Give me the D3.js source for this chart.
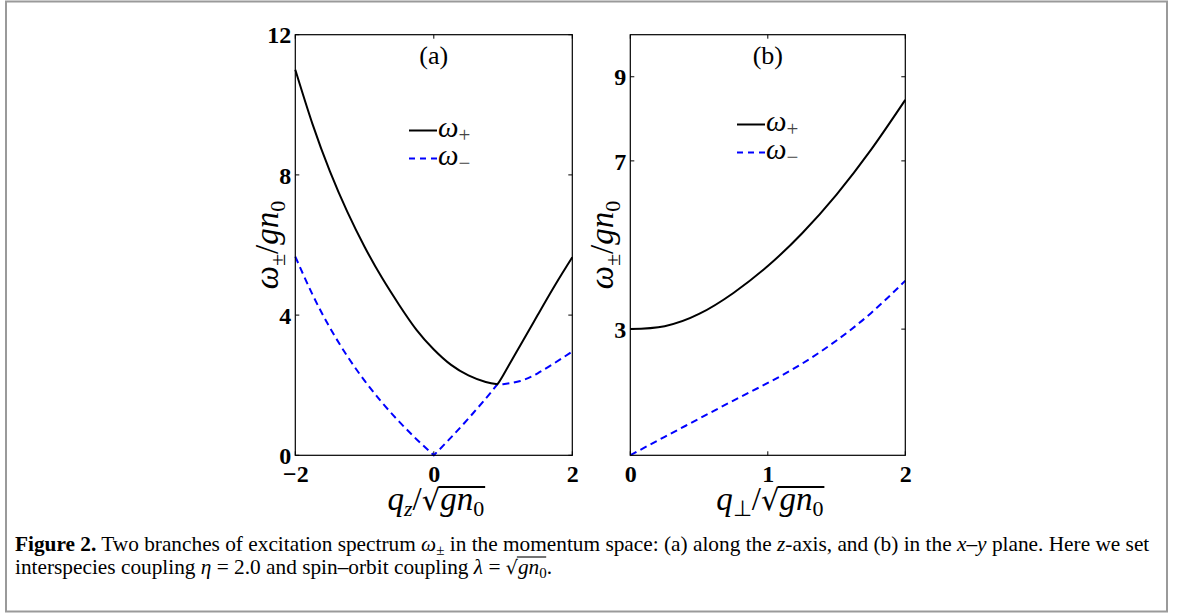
<!DOCTYPE html>
<html>
<head>
<meta charset="utf-8">
<script src="https://cdn.jsdelivr.net/npm/d3@7"></script>
<style>
  body { margin: 0; background: #fff; }
  svg { display: block; }
  text { font-family: "Liberation Serif", "Times New Roman", serif; }
</style>
</head>
<body>
<svg id="fig" width="1179" height="615"></svg>
<script>
// ---------- data ----------
// panel (a): along q_z ; the two branches touch at q_z ≈ 0.92
const qA = [-2, -1.75, -1.5, -1.25, -1, -0.75, -0.5, -0.25, 0, 0.25, 0.5, 0.75, 0.92, 1, 1.25, 1.5, 1.75, 2];
const wPlusA = [11.0, 9.44, 8.10, 6.95, 5.95, 5.07, 4.29, 3.58, 3.02, 2.58, 2.28, 2.09, 2.03, 2.28, 3.14, 4.0, 4.85, 5.65];
const wMinusA = [5.67, 4.58, 3.64, 2.83, 2.13, 1.51, 0.96, 0.46, 0.0, 0.51, 1.05, 1.62, 2.03, 2.03, 2.12, 2.34, 2.64, 2.96];
const kinksPlusA = [0.92];
const kinksMinusA = [0, 0.92];

// panel (b): in the x–y plane
const qB = [0, 0.25, 0.5, 0.75, 1, 1.25, 1.5, 1.75, 2];
const wPlusB = [3.0, 3.07, 3.36, 3.86, 4.50, 5.28, 6.20, 7.26, 8.45];
const wMinusB = [0.0, 0.44, 0.87, 1.30, 1.72, 2.18, 2.73, 3.38, 4.15];

const xTicksA = [-2, 0, 2];
const yTicksA = [0, 4, 8, 12];
const xTicksB = [0, 1, 2];
const yTicksB = [3, 7, 9];

const seriesNames = ["+", "\u2212"];

// ---------- layout ----------
const svg = d3.select("#fig");
svg.append("rect").attr("x", 6).attr("y", 1.5).attr("width", 1161).attr("height", 610)
  .attr("fill", "none").attr("stroke", "#9a9a9a").attr("stroke-width", 2);

const panels = [
  { id: "a", x0: 295.3, x1: 572.3, y0: 34.7, y1: 455.3, xd: [-2, 2], yd: [0, 12],
    q: qA, wp: wPlusA, wm: wMinusA, kp: kinksPlusA, km: kinksMinusA, xt: xTicksA, yt: yTicksA,
    legend: { x: 409, y: 130.5 }, ylabX: 268, xsub: "z" },
  { id: "b", x0: 630.3, x1: 905.3, y0: 34.7, y1: 455.3, xd: [0, 2], yd: [0, 10],
    q: qB, wp: wPlusB, wm: wMinusB, kp: [], km: [], xt: xTicksB, yt: yTicksB,
    legend: { x: 737, y: 124.5 }, ylabX: 603, xsub: "\u22A5" }
];

const fmt = d => (d < 0 ? "\u2212" + Math.abs(d) : String(d));

// split a series at its kinks and join the smooth pieces into one continuous path
function pathWithKinks(line, q, w, kinks) {
  const bounds = [q[0], ...kinks, q[q.length - 1]];
  let d = "";
  for (let i = 0; i < bounds.length - 1; i++) {
    const seg = q.map((v, j) => [v, w[j]]).filter(p => p[0] >= bounds[i] && p[0] <= bounds[i + 1]);
    const s = line(seg);
    d += i === 0 ? s : s.replace(/^M/, "L");
  }
  return d;
}

panels.forEach(p => {
  const g = svg.append("g");
  const x = d3.scaleLinear().domain(p.xd).range([p.x0, p.x1]);
  const y = d3.scaleLinear().domain(p.yd).range([p.y1, p.y0]);
  const tl = 4;

  // inward ticks on all four sides
  const tk = g.append("g").attr("stroke", "#000").attr("stroke-width", 1);
  p.xt.forEach(t => {
    const xx = x(t);
    tk.append("line").attr("x1", xx).attr("x2", xx).attr("y1", p.y1).attr("y2", p.y1 - tl);
    tk.append("line").attr("x1", xx).attr("x2", xx).attr("y1", p.y0).attr("y2", p.y0 + tl);
  });
  p.yt.forEach(t => {
    const yy = y(t);
    tk.append("line").attr("x1", p.x0).attr("x2", p.x0 + tl).attr("y1", yy).attr("y2", yy);
    tk.append("line").attr("x1", p.x1).attr("x2", p.x1 - tl).attr("y1", yy).attr("y2", yy);
  });

  // tick labels through d3 axes
  const xAxis = d3.axisBottom(x).tickValues(p.xt).tickFormat(fmt).tickSize(0).tickPadding(10);
  const yAxis = d3.axisLeft(y).tickValues(p.yt).tickFormat(fmt).tickSize(0).tickPadding(4);
  const gx = g.append("g").attr("transform", `translate(0,${p.y1})`).call(xAxis);
  const gy = g.append("g").attr("transform", `translate(${p.x0},0)`).call(yAxis);
  [gx, gy].forEach(a => {
    a.select(".domain").remove();
    a.selectAll("text").attr("font-family", "Liberation Serif, serif")
      .attr("font-weight", "bold").attr("font-size", 24).attr("fill", "#000");
  });
  gx.selectAll("text").attr("dy", "0.71em");
  gy.selectAll("text").attr("dy", "0.34em");

  // curves
  const line = d3.line().x(d => x(d[0])).y(d => y(d[1])).curve(d3.curveNatural);
  g.append("path").attr("d", pathWithKinks(line, p.q, p.wm, p.km)).attr("fill", "none")
    .attr("stroke", "#0000ff").attr("stroke-width", 2).attr("stroke-dasharray", "7,4.5");
  g.append("path").attr("d", pathWithKinks(line, p.q, p.wp, p.kp)).attr("fill", "none")
    .attr("stroke", "#000").attr("stroke-width", 2);

  // frame
  g.append("rect").attr("x", p.x0).attr("y", p.y0).attr("width", p.x1 - p.x0).attr("height", p.y1 - p.y0)
    .attr("fill", "none").attr("stroke", "#000").attr("stroke-width", 1.2);

  // panel label
  g.append("text").attr("x", (p.x0 + p.x1) / 2).attr("y", 64).attr("text-anchor", "middle")
    .attr("font-size", 26).text(`(${p.id})`);

  // legend
  const lg = g.append("g");
  [0, 1].forEach(i => {
    const yy = p.legend.y + i * 28;
    lg.append("line").attr("x1", p.legend.x).attr("x2", p.legend.x + 28).attr("y1", yy).attr("y2", yy)
      .attr("stroke", i === 0 ? "#000" : "#0000ff").attr("stroke-width", 2)
      .attr("stroke-dasharray", i === 0 ? null : "6,5");
    const t = lg.append("text").attr("x", p.legend.x + 29).attr("y", yy + 6).attr("font-size", 29);
    t.append("tspan").attr("font-style", "italic").text("\u03C9");
    t.append("tspan").attr("font-size", 21).attr("dy", 5).attr("fill", "#444").text(seriesNames[i]);
  });

  // y label (rotated)
  const yl = g.append("text").attr("transform", `translate(${p.ylabX + 10},245) rotate(-90)`)
    .attr("text-anchor", "middle").attr("font-size", 33);
  yl.append("tspan").attr("font-style", "italic").text("\u03C9");
  yl.append("tspan").attr("font-size", 22).attr("dy", 7).text("\u00B1");
  yl.append("tspan").attr("dy", -7).text("/");
  yl.append("tspan").attr("font-style", "italic").text("gn");
  yl.append("tspan").attr("font-size", 22).attr("dy", 7).text("0");

  // x label: q_sub / sqrt(g n_0)
  const cx = (p.x0 + p.x1) / 2;
  const xl = g.append("text").attr("x", cx + 2).attr("y", 510).attr("text-anchor", "middle").attr("font-size", 33);
  xl.append("tspan").attr("font-style", "italic").text("q");
  xl.append("tspan").attr("font-size", 22).attr("dy", 6)
    .attr("font-style", p.xsub === "z" ? "italic" : "normal").text(p.xsub);
  xl.append("tspan").attr("dy", -6).text("/");
  xl.append("tspan").attr("font-family", "DejaVu Serif, serif").attr("font-size", 29).text("\u221A");
  xl.append("tspan").attr("font-style", "italic").text("gn");
  xl.append("tspan").attr("font-size", 22).attr("dy", 6).text("0");
  const bb = xl.node().getBBox();
  const sqrtNode = xl.selectAll("tspan").nodes()[3];
  const start = sqrtNode.getStartPositionOfChar(0).x + sqrtNode.getComputedTextLength() - 1.5;
  g.append("line").attr("x1", start).attr("x2", bb.x + bb.width + 1)
    .attr("y1", 487).attr("y2", 487).attr("stroke", "#000").attr("stroke-width", 1.8);
});

// ---------- caption ----------
const cap = svg.append("g").attr("font-size", 21);
const l1 = cap.append("text").attr("x", 15).attr("y", 551);
l1.append("tspan").attr("font-weight", "bold").text("Figure 2.");
l1.append("tspan").text(" Two branches of excitation spectrum ");
l1.append("tspan").attr("font-style", "italic").text("\u03C9");
l1.append("tspan").attr("font-size", 15).attr("dy", 4).text("\u00B1");
l1.append("tspan").attr("dy", -4).text(" in the momentum space: (a) along the ");
l1.append("tspan").attr("font-style", "italic").text("z");
l1.append("tspan").text("-axis, and (b) in the ");
l1.append("tspan").attr("font-style", "italic").text("x\u2013y");
l1.append("tspan").text(" plane. Here we set");
// fit the first line to the reference width
{
  const w = l1.node().getComputedTextLength();
  const target = 1135;
  const fs = 21 * target / w;
  cap.attr("font-size", fs);
}

const l2 = cap.append("text").attr("x", 15).attr("y", 574);
l2.append("tspan").text("interspecies coupling ");
l2.append("tspan").attr("font-style", "italic").text("\u03B7");
l2.append("tspan").text(" = 2.0 and spin\u2013orbit coupling ");
l2.append("tspan").attr("font-style", "italic").text("\u03BB");
l2.append("tspan").text(" = ");
const sq2 = l2.append("tspan").attr("font-family", "DejaVu Serif, serif").attr("font-size", 19).text("\u221A");
l2.append("tspan").attr("font-style", "italic").text("gn");
l2.append("tspan").attr("font-size", 15).attr("dy", 4).text("0");
const dot = l2.append("tspan").attr("dy", -4).text(".");
{
  const sn = sq2.node();
  const s = sn.getStartPositionOfChar(0).x + sn.getComputedTextLength() - 1;
  const e = dot.node().getStartPositionOfChar(0).x - 0.5;
  cap.append("line").attr("x1", s).attr("x2", e).attr("y1", 557).attr("y2", 557)
    .attr("stroke", "#000").attr("stroke-width", 1.1);
}
</script>
</body>
</html>
